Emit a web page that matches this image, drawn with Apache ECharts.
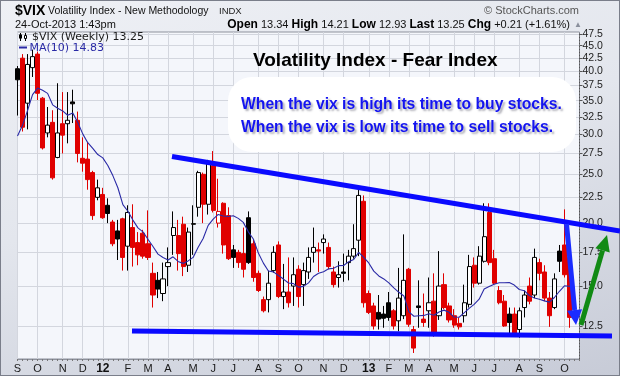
<!DOCTYPE html>
<html><head><meta charset="utf-8">
<script src="https://cdn.jsdelivr.net/npm/echarts@6/dist/echarts.min.js"></script>
<style>
html,body{margin:0;padding:0;}
#c{width:620px;height:376px;background:linear-gradient(165deg,#eef0f5 0%,#e3e6ed 45%,#c7cbd7 100%);box-shadow:inset 0 0 0 1px #7a7e8a;}
</style></head><body><div id="c"></div>
<script>
const dates = ['2011-09-05','2011-09-12','2011-09-19','2011-09-26','2011-10-03','2011-10-10','2011-10-17','2011-10-24','2011-10-31','2011-11-07','2011-11-14','2011-11-21','2011-11-28','2011-12-05','2011-12-12','2011-12-19','2011-12-26',
'2012-01-02','2012-01-09','2012-01-16','2012-01-23','2012-01-30','2012-02-06','2012-02-13','2012-02-20','2012-02-27','2012-03-05','2012-03-12','2012-03-19','2012-03-26','2012-04-02','2012-04-09','2012-04-16','2012-04-23','2012-04-30','2012-05-07','2012-05-14','2012-05-21','2012-05-28','2012-06-04','2012-06-11','2012-06-18','2012-06-25','2012-07-02','2012-07-09','2012-07-16','2012-07-23','2012-07-30','2012-08-06','2012-08-13','2012-08-20','2012-08-27','2012-09-03','2012-09-10','2012-09-17','2012-09-24','2012-10-01','2012-10-08','2012-10-15','2012-10-22','2012-10-29','2012-11-05','2012-11-12','2012-11-19','2012-11-26','2012-12-03','2012-12-10','2012-12-17','2012-12-24','2012-12-31',
'2013-01-07','2013-01-14','2013-01-21','2013-01-28','2013-02-04','2013-02-11','2013-02-18','2013-02-25','2013-03-04','2013-03-11','2013-03-18','2013-03-25','2013-04-01','2013-04-08','2013-04-15','2013-04-22','2013-04-29','2013-05-06','2013-05-13','2013-05-20','2013-05-27','2013-06-03','2013-06-10','2013-06-17','2013-06-24','2013-07-01','2013-07-08','2013-07-15','2013-07-22','2013-07-29','2013-08-05','2013-08-12','2013-08-19','2013-08-26','2013-09-02','2013-09-09','2013-09-16','2013-09-23','2013-09-30','2013-10-07','2013-10-14','2013-10-21','2013-10-28'];

const opens = [40.5,42.5,34.6,40.7,43.3,35.4,30.2,31.7,27.0,31.5,
31.5,34.8,32.0,26.9,26.8,25.2,22.5,22.8,21.7,20.1,
19.3,20.4,18.0,19.6,18.3,19.1,18.2,15.9,15.4,14.5,
16.4,18.9,18.9,19.9,16.5,19.95,21.5,25.0,21.8,26.0,
20.0,21.9,20.7,17.7,17.5,17.4,20.5,18.2,15.9,14.1,
14.1,16.1,18.1,14.3,14.6,15.0,16.2,15.1,16.0,17.5,
17.7,18.3,17.9,16.0,15.6,16.0,16.7,17.2,18.5,22.1,
14.5,13.7,13.3,13.2,13.9,13.4,12.8,13.1,16.2,12.3,
13.7,12.9,13.4,14.0,13.1,15.1,13.7,13.1,12.65,13.1,
13.8,16.5,15.2,16.8,21.0,17.0,14.7,14.0,13.2,13.2,
12.3,13.6,15.0,14.4,16.7,16.0,14.2,13.6,17.6,18.1,
17.1,13.34];
const highs = [41.0,43.3,43.3,44.2,43.8,35.6,34.0,33.5,37.9,36.4,
36.4,36.8,33.3,29.6,29.0,25.4,24.4,23.5,22.4,20.3,
20.3,20.5,21.7,21.8,19.2,19.4,21.2,16.7,16.0,16.7,
17.9,21.1,20.3,20.6,19.6,21.7,25.4,25.2,26.7,27.8,
24.5,22.0,21.5,18.1,17.7,19.6,21.1,18.6,16.1,14.3,
16.1,18.0,18.4,16.6,17.1,17.1,16.5,16.7,17.9,19.6,
18.3,19.0,18.3,16.4,16.8,17.4,17.7,19.9,23.3,22.7,
14.7,13.9,14.4,13.7,14.6,13.5,16.3,19.0,16.3,12.5,
15.4,14.5,15.6,15.9,17.6,15.9,13.9,13.5,13.0,15.1,
17.3,17.1,18.0,21.9,21.9,17.7,15.0,14.4,13.6,13.6,
13.6,14.7,15.6,17.8,17.0,16.5,14.6,15.9,18.1,21.3,
17.4,14.21];
const lows = [32.7,30.4,30.7,39.0,35.1,28.0,29.6,24.4,26.9,27.5,
28.8,31.6,26.4,25.3,23.3,20.3,22.2,20.4,20.0,18.0,
16.9,16.1,16.1,16.4,16.5,17.0,16.9,13.6,14.2,14.0,
15.0,17.3,16.1,15.7,16.0,17.3,20.6,20.0,20.8,21.0,
19.6,17.4,16.9,16.3,16.3,15.6,16.6,15.3,14.6,13.3,
13.3,15.95,14.2,13.5,13.6,13.7,13.6,13.7,15.5,16.7,
16.0,17.4,16.2,14.9,14.9,15.3,15.4,17.0,17.2,13.6,
13.2,12.3,12.3,12.4,12.8,12.3,12.2,12.9,12.45,11.05,
12.4,12.45,12.4,11.9,12.85,13.5,12.7,12.4,12.3,12.7,
13.6,14.9,15.1,16.7,16.5,15.1,13.8,12.45,12.1,12.0,
11.85,13.0,13.8,14.2,15.4,14.0,12.45,13.5,16.0,15.6,
12.4,12.93];
const closes = [38.5,31.0,41.3,42.8,36.2,28.2,31.3,24.6,30.2,29.9,
32.0,34.5,27.5,26.3,24.4,20.7,23.5,20.5,20.9,18.2,
18.6,17.1,21.0,17.9,17.3,17.2,17.1,14.4,14.8,15.5,
16.7,19.6,17.4,16.4,19.2,19.9,25.2,21.8,26.3,21.2,
21.1,18.1,17.0,17.1,16.7,16.2,16.7,15.6,14.7,13.4,
15.2,17.5,14.3,14.6,13.9,15.8,14.3,16.1,17.1,17.9,
17.6,18.6,16.4,15.1,15.8,15.9,17.2,17.8,22.7,13.9,
13.3,12.5,12.9,12.95,13.0,12.5,14.2,15.4,12.6,11.3,
13.6,12.7,13.9,12.1,15.0,13.6,12.85,12.55,12.45,13.9,
16.4,15.2,17.2,18.8,16.7,15.2,13.9,12.5,12.7,12.1,
13.4,14.4,14.0,17.1,15.9,14.2,13.1,15.5,16.8,15.8,
13.0,13.25];
const ma10 = [29.77,31.27,33.45,35.98,37.07,36.69,36.19,34.34,33.80,33.40,
32.75,33.10,31.72,30.07,28.89,28.14,27.36,26.95,26.02,24.85,
23.51,21.77,21.12,20.28,19.57,19.22,18.58,17.97,17.36,17.09,
16.90,17.15,16.79,16.64,16.83,17.10,17.91,18.65,19.80,20.37,
20.81,20.66,20.62,20.69,20.44,20.07,19.22,18.60,17.44,16.66,
16.07,16.01,15.74,15.49,15.21,15.17,14.93,14.98,15.22,15.67,
15.91,16.02,16.23,16.28,16.47,16.48,16.77,16.94,17.50,17.10,
16.67,16.06,15.71,15.50,15.22,14.88,14.58,14.34,13.33,13.07,
13.10,13.12,13.22,13.13,13.33,13.44,13.31,13.02,13.01,13.27,
13.55,13.80,14.13,14.80,14.97,15.13,15.23,15.23,15.25,15.07,
14.77,14.69,14.37,14.20,14.12,14.02,13.94,14.24,14.65,15.02,
14.98,14.87];
const priorClose = 33.9;
const yTickValues = [12.5,15,17.5,20,22.5,25,27.5,30,32.5,35,37.5,40,42.5,45,47.5];
const monthLetters = ['J','F','M','A','M','J','J','A','S','O','N','D'];

function monthOf(i){ return +dates[i].slice(5,7); }
function isMonthStart(i){ return i === 0 || monthOf(i) !== monthOf(i-1); }

const RED = '#e00000', BLACK = '#000000', HOLLOW = '#ffffff';
const candleData = opens.map(function(o, i){
  const c = closes[i];
  const p = i === 0 ? priorClose : closes[i-1];
  const edge = c >= p ? BLACK : RED;
  let fill = c >= o ? HOLLOW : edge;
  let border = edge;
  if (i === opens.length - 1) { fill = '#c8f2b4'; border = '#7cc06a'; }
  return {value:[o, c, lows[i], highs[i]], itemStyle:{color:fill, color0:fill, borderColor:border, borderColor0:border}};
});

const F = 'Liberation Sans, Arial, sans-serif';
const chart = echarts.init(document.getElementById('c'), null, {renderer:'canvas'});

function arrowHead(tip, dir, len, half){
  const n = Math.hypot(dir[0], dir[1]); const ux = dir[0]/n, uy = dir[1]/n;
  const bx = tip[0]-ux*len, by = tip[1]-uy*len; const px = -uy, py = ux;
  return {base:[bx,by], pts:[[bx+px*half,by+py*half],[tip[0],tip[1]],[bx-px*half,by-py*half]]};
}
const blueHead = arrowHead([576,325],[9.5,101],15,7.5);
const greenHead = arrowHead([607,235],[26,-90],16,7.5);

const option = {
  animation:false,
  backgroundColor:'transparent',
  grid:{left:17.5, right:40.5, top:32, bottom:17, show:true, backgroundColor:'#f4f6fb', borderColor:'#8d919c', borderWidth:1},
  xAxis:{type:'category', data:dates, boundaryGap:false,
    axisLine:{show:true, lineStyle:{color:'#8d919c'}},
    axisTick:{show:true, interval:0, length:2, lineStyle:{color:'#777'}},
    axisLabel:{interval:function(i){return isMonthStart(i);}, margin:4, fontSize:11, fontFamily:F, color:'#1a1a1a',
      formatter:function(v, i){ const m = +v.slice(5,7); return m === 1 ? '{y|' + v.slice(2,4) + '}' : monthLetters[m-1]; },
      rich:{y:{fontWeight:'bold', fontSize:12, fontFamily:F, color:'#111'}}},
    splitLine:{show:true, interval:function(i){return isMonthStart(i);}, lineStyle:{color:'#d3d6de', width:1}}},
  yAxis:{type:'log', logBase:10, position:'right', min:10.75, max:47.9,
    axisLine:{show:true, lineStyle:{color:'#555', type:[1,2]}},
    axisTick:{show:true, customValues:yTickValues, length:3, lineStyle:{color:'#555'}},
    axisLabel:{customValues:yTickValues, margin:3, fontSize:10.5, fontFamily:F, color:'#222', formatter:function(v){return (+v).toFixed(1);}},
    splitLine:{show:true, lineStyle:{color:'#d3d6de', width:1}}},
  series:[
    {type:'candlestick', data:candleData, barWidth:4.6, clip:true, itemStyle:{borderWidth:1}},
    {type:'line', data:ma10, symbol:'none', clip:true, lineStyle:{color:'#2a2aa6', width:1.1}, z:3}
  ],
  graphic:[
    {type:'text', x:15, y:11, style:{text:'$VIX', font:'bold 14px '+F, fill:'#000', verticalAlign:'middle'}},
    {type:'text', x:48, y:11.5, style:{text:'Volatility Index - New Methodology', font:'10.5px '+F, fill:'#111', verticalAlign:'middle'}},
    {type:'text', x:219, y:11.5, style:{text:'INDX', font:'9.5px '+F, fill:'#222', verticalAlign:'middle'}},
    {type:'text', x:579, y:11, style:{text:'\u00A9 StockCharts.com', font:'11px '+F, fill:'#555', align:'right', verticalAlign:'middle'}},
    {type:'text', x:15, y:25, style:{text:'24-Oct-2013 1:43pm', font:'11px '+F, fill:'#111', verticalAlign:'middle'}},
    {type:'text', x:570, y:25, style:{text:'{b|Open} 13.34 {b|High} 14.21 {b|Low} 12.93 {b|Last} 13.25 {b|Chg} +0.21 (+1.61%)', font:'11px '+F, fill:'#111', align:'right', verticalAlign:'middle', rich:{b:{font:'bold 12px '+F, fill:'#000'}}}},
    {type:'text', x:574, y:25, style:{text:'\u25B2', font:'8px '+F, fill:'#8a8f9c', verticalAlign:'middle'}},
    {type:'line', z:50, shape:{x1:20.5,y1:33,x2:20.5,y2:41}, style:{stroke:'#000', lineWidth:1}},
    {type:'rect', z:50, shape:{x:19,y:34.5,width:3,height:4}, style:{fill:'#000'}},
    {type:'line', z:50, shape:{x1:25.5,y1:33,x2:25.5,y2:41}, style:{stroke:'#000', lineWidth:1}},
    {type:'rect', z:50, shape:{x:24.5,y:35.5,width:2,height:3}, style:{fill:'#fff', stroke:'#000', lineWidth:1}},
    {type:'text', z:50, x:32, y:37, style:{text:'$VIX (Weekly) 13.25', font:'11px DejaVu Sans', fill:'#1a1a1a', verticalAlign:'middle'}},
    {type:'line', z:50, shape:{x1:19,y1:47.5,x2:27,y2:47.5}, style:{stroke:'#2a2aa6', lineWidth:2}},
    {type:'text', z:50, x:29.5, y:48, style:{text:'MA(10) 14.83', font:'11px DejaVu Sans', fill:'#2a2aa6', verticalAlign:'middle'}},
    {type:'text', z:50, x:253, y:61, style:{text:'Volatility Index - Fear Index', font:'bold 19px '+F, fill:'#000', verticalAlign:'middle'}},
    {type:'rect', z:50, shape:{x:228,y:77,width:348,height:75,r:24}, style:{fill:'#ffffff'}},
    {type:'text', z:51, x:241, y:105, style:{text:'When the vix is high its time to buy stocks.', font:'bold 15.7px '+F, fill:'#1414f0', verticalAlign:'middle', textShadowColor:'rgba(70,70,90,0.45)', textShadowBlur:2, textShadowOffsetX:2, textShadowOffsetY:2}},
    {type:'text', z:51, x:241, y:128, style:{text:'When the vix is low its time to sell stocks.', font:'bold 15.7px '+F, fill:'#1414f0', verticalAlign:'middle', textShadowColor:'rgba(70,70,90,0.45)', textShadowBlur:2, textShadowOffsetX:2, textShadowOffsetY:2}},
    {type:'line', z:60, shape:{x1:172,y1:156.5,x2:620,y2:231}, style:{stroke:'#0a0aff', lineWidth:5}},
    {type:'line', z:60, shape:{x1:132,y1:331,x2:612,y2:336}, style:{stroke:'#0a0aff', lineWidth:5}},
    {type:'line', z:61, shape:{x1:566.5,y1:224,x2:blueHead.base[0],y2:blueHead.base[1]}, style:{stroke:'#1a2cff', lineWidth:5}},
    {type:'polygon', z:61, shape:{points:blueHead.pts}, style:{fill:'#1a2cff'}},
    {type:'line', z:61, shape:{x1:581,y1:325,x2:greenHead.base[0],y2:greenHead.base[1]}, style:{stroke:'#118a14', lineWidth:5}},
    {type:'polygon', z:61, shape:{points:greenHead.pts}, style:{fill:'#118a14'}}
  ]
};
chart.setOption(option);
</script></body></html>
